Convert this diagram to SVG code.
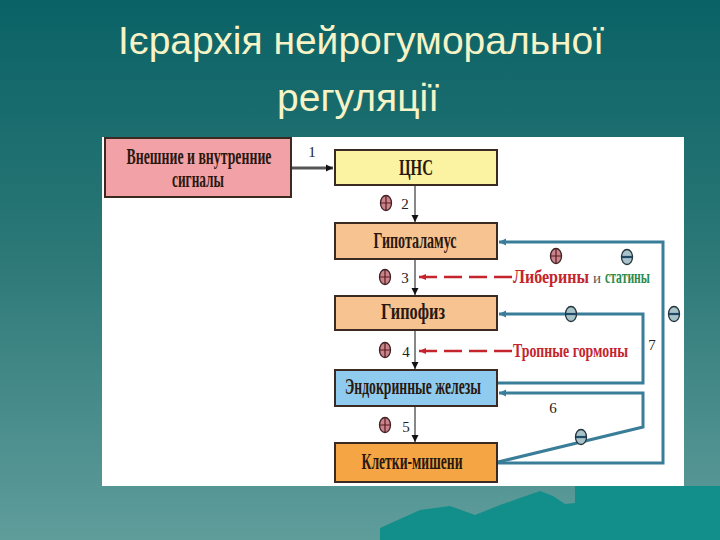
<svg xmlns="http://www.w3.org/2000/svg" width="720" height="540" viewBox="0 0 720 540">
<defs>
<linearGradient id="bg" x1="0" y1="0" x2="0" y2="1">
<stop offset="0" stop-color="#0a6266"/>
<stop offset="0.45" stop-color="#2a7776"/>
<stop offset="1" stop-color="#5f9d9b"/>
</linearGradient>
<marker id="arrK" markerUnits="userSpaceOnUse" markerWidth="8" markerHeight="8" refX="7" refY="4" orient="auto">
<path d="M0,0.5 L7,4 L0,7.5 z" fill="#111"/>
</marker>
<marker id="arrB" markerUnits="userSpaceOnUse" markerWidth="8" markerHeight="8" refX="7" refY="4" orient="auto">
<path d="M0,0.5 L7,4 L0,7.5 z" fill="#3a7d98"/>
</marker>
<marker id="arrR" markerUnits="userSpaceOnUse" markerWidth="8" markerHeight="8" refX="7" refY="4" orient="auto">
<path d="M0,1 L7,4 L0,7 z" fill="#c4242c"/>
</marker>
<g id="plus">
<ellipse cx="0" cy="0" rx="5.5" ry="7.5" fill="#c9848c" stroke="#3e2224" stroke-width="1.3"/>
<path d="M-5,0 H5 M0,-7 V7" stroke="#5a1a20" stroke-width="1.2"/>
</g>
<g id="minus">
<ellipse cx="0" cy="0" rx="5.5" ry="7.5" fill="#a9c3cb" stroke="#24343a" stroke-width="1.3"/>
<path d="M-5,0 H5" stroke="#1f4a66" stroke-width="2.2"/>
</g>
</defs>
<style>
.title{font-family:"Liberation Sans",Arial,sans-serif;font-size:39px;fill:#f6f3c6}
.box{stroke:#3b2a22;stroke-width:2}
.bt{font-family:"Liberation Serif","Times New Roman",serif;font-weight:bold;font-size:17px;fill:#2a1810}
.num{font-family:"Liberation Serif","Times New Roman",serif;font-size:15px;fill:#222222}
.fb{fill:none;stroke:#3a7d98;stroke-width:3}
.thin{fill:none;stroke:#111;stroke-width:1}
.dash{fill:none;stroke:#c4242c;stroke-width:2.5;stroke-dasharray:18 7}
.lab{font-family:"Liberation Serif","Times New Roman",serif;font-weight:bold;font-size:14px}
</style>
<rect x="0" y="0" width="720" height="540" fill="url(#bg)"/>
<path d="M380,540 L380,528 L420,510 L450,506 L475,515 L500,505 L520,498 L540,491 L553,496 L565,504 L575,503 L575,486 L720,486 L720,540 z" fill="#138f8b"/>
<text class="title" x="361" y="54" text-anchor="middle">Ієрархія нейрогуморальної</text>
<text class="title" x="358" y="111" text-anchor="middle">регуляції</text>
<rect x="102" y="137" width="582" height="349" fill="#ffffff"/>

<g id="connectors">
<path d="M291,168 H333" stroke="#555" stroke-width="3" fill="none" marker-end="url(#arrK)"/>
<path class="thin" d="M415,186 V222" marker-end="url(#arrK)"/>
<path class="thin" d="M415,260 V295" marker-end="url(#arrK)"/>
<path class="thin" d="M415,331 V369" marker-end="url(#arrK)"/>
<path class="thin" d="M415,407 V442" marker-end="url(#arrK)"/>
<path class="fb" d="M498,463 H663 V242 H499" marker-end="url(#arrB)"/>
<path class="fb" d="M498,462 L643,427 V393 H499" marker-end="url(#arrB)"/>
<path class="fb" d="M498,383 H643 V314 H499" marker-end="url(#arrB)"/>
<path class="dash" d="M512,277 H419" marker-end="url(#arrR)"/>
<path class="dash" d="M512,351 H419" marker-end="url(#arrR)"/>
<text class="num" x="312" y="157" text-anchor="middle">1</text>
<text class="num" x="405" y="209" text-anchor="middle">2</text>
<text class="num" x="405" y="283" text-anchor="middle">3</text>
<text class="num" x="406" y="357" text-anchor="middle">4</text>
<text class="num" x="406" y="432" text-anchor="middle">5</text>
<text class="num" x="553" y="413" text-anchor="middle">6</text>
<text class="num" x="652" y="350" text-anchor="middle">7</text>
<use href="#plus" x="386" y="203"/>
<use href="#plus" x="385" y="277"/>
<use href="#plus" x="385" y="350"/>
<use href="#plus" x="385" y="425"/>
<use href="#plus" x="556" y="256"/>
<use href="#minus" x="627" y="257"/>
<use href="#minus" x="571" y="314"/>
<use href="#minus" x="674" y="314"/>
<use href="#minus" x="581" y="437"/>
<text class="lab" transform="translate(513,283) scale(1,1.4)" x="0" y="0" fill="#c4242c" textLength="76" lengthAdjust="spacingAndGlyphs">Либерины</text>
<text x="597" y="283" font-family="Liberation Serif, serif" font-size="15" fill="#555555" text-anchor="middle">и</text>
<text class="lab" transform="translate(605,283) scale(1,1.4)" x="0" y="0" fill="#2e8a4c" textLength="45" lengthAdjust="spacingAndGlyphs">статины</text>
<text class="lab" transform="translate(513,357) scale(1,1.4)" x="0" y="0" fill="#c4242c" textLength="115" lengthAdjust="spacingAndGlyphs">Тропные гормоны</text>
</g>

<g id="signals">
<rect class="box" x="105" y="138" width="186" height="59" fill="#f2a2a6"/>
<text class="bt" transform="translate(199,164) scale(1,1.3)" x="0" y="0" text-anchor="middle" textLength="145" lengthAdjust="spacingAndGlyphs">Внешние и внутренние</text>
<text class="bt" transform="translate(198,187) scale(1,1.3)" x="0" y="0" text-anchor="middle" textLength="52" lengthAdjust="spacingAndGlyphs">сигналы</text>
</g>
<g id="cns">
<rect class="box" x="335" y="150" width="162" height="35" fill="#fbf3a2"/>
<text class="bt" transform="translate(416,175) scale(1,1.3)" x="0" y="0" text-anchor="middle" textLength="34" lengthAdjust="spacingAndGlyphs">ЦНС</text>
</g>
<g id="hypothalamus">
<rect class="box" x="335" y="223" width="162" height="36" fill="#f7c391"/>
<text class="bt" transform="translate(415,248) scale(1,1.3)" x="0" y="0" text-anchor="middle" textLength="83" lengthAdjust="spacingAndGlyphs">Гипоталамус</text>
</g>
<g id="pituitary">
<rect class="box" x="335" y="296" width="162" height="34" fill="#f7c391"/>
<text class="bt" transform="translate(413,319) scale(1,1.3)" x="0" y="0" text-anchor="middle" textLength="64" lengthAdjust="spacingAndGlyphs">Гипофиз</text>
</g>
<g id="endocrine">
<rect class="box" x="335" y="370" width="162" height="36" fill="#8ecbee"/>
<text class="bt" transform="translate(413,394) scale(1,1.3)" x="0" y="0" text-anchor="middle" textLength="136" lengthAdjust="spacingAndGlyphs">Эндокринные железы</text>
</g>
<g id="targets">
<rect class="box" x="335" y="443" width="162" height="39" fill="#f5a544"/>
<text class="bt" transform="translate(412,469) scale(1,1.3)" x="0" y="0" text-anchor="middle" textLength="101" lengthAdjust="spacingAndGlyphs">Клетки-мишени</text>
</g>
</svg>
